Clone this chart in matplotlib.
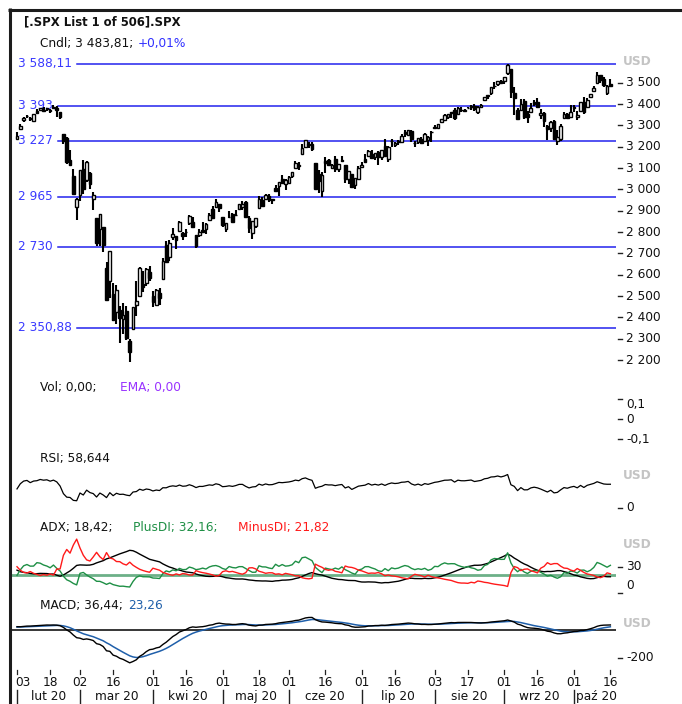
import numpy as np
import pandas as pd
import matplotlib
matplotlib.use("Agg")
import matplotlib.pyplot as plt
from matplotlib import transforms
from matplotlib.lines import Line2D

# ---------------- data (S&P 500 daily candles, Feb 3 - Oct 16 2020) ----------------
holidays = ["2020-02-17", "2020-04-10", "2020-05-25", "2020-07-03", "2020-09-07"]
start_date, end_date = "2020-02-03", "2020-10-16"

opens = [
    3235.66, 3280.61, 3324.91, 3344.92, 3335.54, 3318.28, 3365.87, 3370.50, 3365.90, 3378.08,
    3369.04, 3380.39, 3380.45, 3360.50, 3257.61, 3238.94, 3139.90, 3062.54, 2916.90,
    2974.28, 3096.46, 3045.75, 3075.70, 2954.20, 2863.89, 2813.48, 2825.60, 2630.86, 2569.99,
    2508.59, 2425.66, 2436.50, 2393.48, 2431.94, 2290.71, 2344.44, 2457.77, 2501.29, 2555.87,
    2558.98, 2614.69,
    2498.08, 2458.54, 2514.92, 2578.28, 2738.65, 2685.00, 2776.99, 2782.46, 2805.10, 2795.64,
    2799.34, 2842.43, 2845.62, 2784.81, 2787.89, 2810.42, 2812.64, 2854.65, 2909.96, 2918.46,
    2930.91,
    2869.09, 2815.01, 2868.88, 2883.14, 2878.26, 2908.83, 2915.46, 2939.50, 2865.86, 2794.54,
    2829.95, 2913.86, 2948.59, 2953.63, 2969.95, 2948.05, 3004.08, 3015.65, 3046.61, 3025.17,
    3031.00, 3064.78, 3098.90, 3111.56, 3163.84, 3199.92, 3213.32, 3213.42, 3123.53, 3071.04,
    2993.76, 3131.00, 3136.13, 3101.64, 3140.29, 3094.42, 3138.70, 3114.40, 3046.60, 3073.20,
    3018.59, 3050.20,
    3105.92, 3143.64, 3155.29, 3166.44, 3153.07, 3176.17, 3152.47, 3205.08, 3141.11, 3225.98,
    3208.36, 3224.21, 3224.29, 3268.52, 3254.86, 3271.64, 3218.58, 3219.84, 3234.27, 3227.22,
    3231.76, 3270.45,
    3288.26, 3289.92, 3317.37, 3323.17, 3340.05, 3356.04, 3370.34, 3355.46, 3372.95, 3368.66,
    3380.86, 3387.04, 3392.51, 3360.48, 3386.01, 3418.09, 3435.95, 3449.97, 3485.14, 3494.69,
    3509.73,
    3507.44, 3543.76, 3564.74, 3453.60, 3371.88, 3369.82, 3412.56, 3352.70, 3363.56, 3407.73,
    3411.23, 3346.86, 3357.38, 3295.75, 3285.57, 3320.11, 3226.14, 3236.66, 3333.90, 3350.92,
    3341.21,
    3385.87, 3338.94, 3367.27, 3408.74, 3384.56, 3434.28, 3459.67, 3500.02, 3534.01, 3515.47,
    3453.72, 3493.50,
]
highs = [
    3268.44, 3306.92, 3337.58, 3347.96, 3341.42, 3352.26, 3375.63, 3381.47, 3385.09, 3380.69,
    3375.01, 3393.52, 3389.15, 3360.76, 3259.81, 3246.99, 3182.51, 3097.07, 2959.72,
    3090.96, 3136.72, 3130.97, 3083.04, 2985.93, 2863.89, 2882.59, 2825.60, 2660.95, 2711.33,
    2562.98, 2553.93, 2453.57, 2466.97, 2453.01, 2300.73, 2449.71, 2571.42, 2637.01, 2615.91,
    2631.80, 2641.39,
    2522.75, 2533.22, 2538.18, 2676.85, 2756.89, 2760.75, 2818.57, 2782.46, 2851.85, 2801.88,
    2815.57, 2879.22, 2868.98, 2785.54, 2815.10, 2844.90, 2842.71, 2887.72, 2921.15, 2954.86,
    2930.91,
    2869.09, 2844.24, 2898.23, 2891.11, 2901.92, 2932.16, 2944.25, 2945.82, 2874.14, 2852.80,
    2865.01, 2968.09, 2964.21, 2980.29, 2978.50, 2956.76, 3021.72, 3036.25, 3068.67, 3049.17,
    3062.18, 3081.07, 3130.94, 3128.91, 3211.72, 3233.13, 3222.71, 3223.27, 3123.53, 3088.42,
    3079.76, 3153.45, 3141.16, 3120.00, 3155.53, 3120.92, 3154.90, 3115.01, 3086.25, 3073.73,
    3053.89, 3111.51,
    3128.44, 3165.81, 3182.59, 3184.15, 3171.80, 3179.78, 3186.82, 3235.32, 3200.95, 3238.28,
    3220.39, 3233.52, 3258.61, 3277.29, 3279.32, 3279.99, 3227.26, 3241.43, 3243.72, 3264.74,
    3250.92, 3272.17,
    3302.73, 3306.84, 3330.77, 3351.03, 3352.54, 3363.29, 3381.01, 3387.89, 3387.24, 3378.51,
    3387.59, 3395.06, 3399.54, 3390.80, 3399.96, 3432.09, 3444.21, 3481.07, 3501.38, 3509.23,
    3514.77,
    3528.03, 3588.11, 3564.85, 3479.15, 3379.97, 3424.77, 3425.55, 3368.95, 3402.93, 3419.48,
    3428.92, 3375.17, 3362.27, 3301.93, 3320.31, 3323.35, 3278.70, 3306.88, 3360.74, 3357.92,
    3393.56,
    3397.18, 3369.10, 3409.57, 3431.56, 3426.26, 3447.28, 3482.34, 3549.85, 3534.01, 3527.94,
    3489.08, 3515.76,
]
lows = [
    3235.66, 3280.61, 3313.75, 3334.39, 3322.12, 3317.77, 3352.72, 3369.72, 3360.52, 3366.15,
    3355.61, 3378.83, 3341.02, 3328.45, 3214.65, 3118.77, 3108.99, 2977.39, 2855.84,
    2945.19, 2976.63, 3034.38, 2999.83, 2901.54, 2734.43, 2734.00, 2707.22, 2478.86, 2492.37,
    2380.94, 2367.04, 2280.52, 2319.78, 2295.56, 2191.86, 2344.44, 2407.53, 2500.72, 2520.02,
    2545.28, 2571.15,
    2447.49, 2455.79, 2459.96, 2574.57, 2657.67, 2663.30, 2762.36, 2721.17, 2805.10, 2761.54,
    2775.95, 2830.88, 2820.43, 2727.10, 2775.95, 2794.26, 2791.76, 2852.89, 2860.71, 2912.16,
    2892.47,
    2821.61, 2797.85, 2863.55, 2847.65, 2876.48, 2902.88, 2903.44, 2869.59, 2793.15, 2766.64,
    2816.78, 2913.86, 2922.35, 2953.63, 2938.57, 2933.59, 2988.17, 2969.75, 3023.40, 2998.61,
    3031.00, 3051.64, 3098.90, 3090.41, 3163.84, 3196.00, 3193.11, 3181.49, 2999.49, 2984.47,
    2965.66, 3076.06, 3108.03, 3093.51, 3083.11, 3079.39, 3127.12, 3032.13, 3024.01, 3004.63,
    2999.74, 3047.83,
    3101.17, 3124.52, 3155.29, 3142.93, 3136.53, 3115.70, 3136.22, 3149.43, 3127.66, 3200.76,
    3198.59, 3205.65, 3215.16, 3247.77, 3253.10, 3222.66, 3200.05, 3214.25, 3216.17, 3227.22,
    3204.13, 3220.26,
    3284.53, 3286.37, 3317.37, 3318.14, 3328.72, 3335.44, 3326.44, 3355.46, 3363.35, 3361.64,
    3379.22, 3370.15, 3369.66, 3354.69, 3379.31, 3413.13, 3425.84, 3444.15, 3468.35, 3484.32,
    3493.25,
    3494.60, 3535.23, 3427.41, 3349.63, 3329.27, 3366.84, 3329.25, 3310.47, 3363.56, 3389.25,
    3384.45, 3328.82, 3292.40, 3229.10, 3270.95, 3232.57, 3209.45, 3228.44, 3332.91, 3327.54,
    3340.47,
    3361.39, 3323.69, 3367.27, 3354.54, 3384.56, 3428.15, 3458.07, 3499.61, 3500.86, 3480.55,
    3440.89, 3480.45,
]
closes = [
    3248.92, 3297.59, 3334.69, 3345.78, 3327.71, 3352.09, 3357.75, 3379.45, 3373.94, 3380.16,
    3370.29, 3386.15, 3373.23, 3337.75, 3225.89, 3128.21, 3116.39, 2978.76, 2954.22,
    3090.23, 3003.37, 3130.12, 3023.94, 2972.37, 2746.56, 2882.23, 2741.38, 2480.64, 2711.02,
    2386.13, 2529.19, 2398.10, 2409.39, 2304.92, 2237.40, 2447.33, 2475.56, 2630.07, 2541.47,
    2626.65, 2584.59,
    2470.50, 2526.90, 2488.65, 2663.68, 2659.41, 2749.98, 2789.82, 2761.63, 2846.06, 2783.36,
    2799.55, 2874.56, 2823.16, 2736.56, 2799.31, 2797.80, 2836.74, 2878.48, 2863.39, 2939.51,
    2912.43,
    2830.71, 2842.74, 2868.44, 2848.42, 2881.19, 2929.80, 2930.32, 2870.12, 2820.00, 2852.50,
    2863.70, 2953.91, 2922.94, 2971.61, 2948.51, 2955.45, 2991.77, 3036.13, 3029.73, 3044.31,
    3055.73, 3080.82, 3122.87, 3112.35, 3193.93, 3232.39, 3207.18, 3190.14, 3002.10, 3041.31,
    3066.59, 3124.74, 3113.49, 3115.34, 3097.74, 3117.86, 3131.29, 3050.33, 3083.76, 3009.05,
    3053.24, 3100.29,
    3115.86, 3130.01, 3179.72, 3145.32, 3169.94, 3152.05, 3185.04, 3155.22, 3197.52, 3226.56,
    3215.57, 3224.73, 3251.84, 3257.30, 3276.02, 3235.66, 3215.63, 3239.41, 3218.44, 3258.44,
    3246.22, 3271.12,
    3294.61, 3306.51, 3327.77, 3349.16, 3351.28, 3360.47, 3333.69, 3380.35, 3373.43, 3372.85,
    3381.99, 3389.78, 3374.85, 3385.51, 3397.16, 3431.28, 3443.62, 3478.73, 3484.55, 3508.01,
    3500.31,
    3526.65, 3580.84, 3455.06, 3426.96, 3331.84, 3398.96, 3339.19, 3340.97, 3383.54, 3401.20,
    3385.49, 3357.01, 3319.47, 3281.06, 3315.57, 3236.92, 3246.59, 3298.46, 3351.60, 3335.47,
    3363.00,
    3380.80, 3348.42, 3408.60, 3360.97, 3419.44, 3446.83, 3477.14, 3534.22, 3511.93, 3488.67,
    3483.34, 3483.81,
]

# horizontal price levels drawn on the chart
level_values = [3588.11, 3393, 3227, 2965, 2730, 2350.88]
level_labels = ["3 588,11", "3 393", "3 227", "2 965", "2 730", "2 350,88"]

price_ticks = [3500, 3400, 3300, 3200, 3100, 3000, 2900, 2800, 2700, 2600, 2500, 2400, 2300, 2200]
price_tick_labels = ["3 500", "3 400", "3 300", "3 200", "3 100", "3 000", "2 900", "2 800",
                     "2 700", "2 600", "2 500", "2 400", "2 300", "2 200"]

day_tick_dates = ["2020-02-03", "2020-02-18", "2020-03-02", "2020-03-16", "2020-04-01",
                  "2020-04-16", "2020-05-01", "2020-05-18", "2020-06-01", "2020-06-16",
                  "2020-07-01", "2020-07-16", "2020-08-03", "2020-08-17", "2020-09-01",
                  "2020-09-16", "2020-10-01", "2020-10-16"]
month_labels = ["lut 20", "mar 20", "kwi 20", "maj 20", "cze 20", "lip 20", "sie 20", "wrz 20", "paź 20"]

rsi_seed_gain, rsi_seed_loss = 5.5, 6.2
adx_seed_atr, adx_seed_plus, adx_seed_minus, adx_seed = 28.0, 20.0, 30.0, 26.0
macd_seed_fast, macd_seed_slow, macd_seed_signal = 3282.0, 3258.0, 21.0

header = "[.SPX List 1 of 506].SPX"
cndl_text, cndl_change = "Cndl; 3 483,81;", "+0,01%"

# ---------------- preparation ----------------
dates = pd.bdate_range(start_date, end_date)
dates = dates[~dates.isin(pd.to_datetime(holidays))]
o = np.array(opens); h = np.array(highs); l = np.array(lows); c = np.array(closes)
n = len(c)
assert len(dates) == n
xi = np.arange(n)

def calc_rsi(c, g0, l0, p=14):
    out = np.empty(len(c)); ag, al = g0, l0
    out[0] = 100 * ag / (ag + al)
    for i in range(1, len(c)):
        d = c[i] - c[i - 1]
        ag = (ag * (p - 1) + max(d, 0)) / p
        al = (al * (p - 1) + max(-d, 0)) / p
        out[i] = 100 * ag / (ag + al)
    return out

def calc_adx(h, l, c, atr0, pdi0, mdi0, adx0, p=14):
    atr, pdm, mdm, a = atr0, pdi0 / 100 * atr0, mdi0 / 100 * atr0, adx0
    P, M, A = [pdi0], [mdi0], [adx0]
    for i in range(1, len(c)):
        tr = max(h[i] - l[i], abs(h[i] - c[i - 1]), abs(l[i] - c[i - 1]))
        up = h[i] - h[i - 1]; dn = l[i - 1] - l[i]
        pp = up if (up > dn and up > 0) else 0.0
        mm = dn if (dn > up and dn > 0) else 0.0
        atr = (atr * (p - 1) + tr) / p
        pdm = (pdm * (p - 1) + pp) / p
        mdm = (mdm * (p - 1) + mm) / p
        pdi = 100 * pdm / atr; mdi = 100 * mdm / atr
        dx = 100 * abs(pdi - mdi) / (pdi + mdi) if (pdi + mdi) > 0 else 0
        a = (a * (p - 1) + dx) / p
        P.append(pdi); M.append(mdi); A.append(a)
    return np.array(P), np.array(M), np.array(A)

def calc_ema(v, seed, p):
    k = 2 / (p + 1); out = [seed]
    for x in v[1:]:
        out.append(out[-1] + k * (x - out[-1]))
    return np.array(out)

rsi = calc_rsi(c, rsi_seed_gain, rsi_seed_loss)
pdi, mdi, adx = calc_adx(h, l, c, adx_seed_atr, adx_seed_plus, adx_seed_minus, adx_seed)
macd = calc_ema(c, macd_seed_fast, 12) - calc_ema(c, macd_seed_slow, 26)
signal = calc_ema(macd, macd_seed_signal, 9)

# ---------------- figure ----------------
W, H = 682, 704
fig = plt.figure(figsize=(W / 100, H / 100), dpi=100)
fig.patch.set_facecolor("white")
FS = 8.7
X0, STEP, LEFT, RIGHT = 17.0, 3.315, 11, 616

def fx(px):
    return px / W

def fy(py):
    return 1 - py / H

def pane(top, bot, p1, v1, p2, v2):
    ax = fig.add_axes([fx(LEFT), fy(bot), (RIGHT - LEFT) / W, (bot - top) / H])
    k = (v2 - v1) / (p2 - p1)
    ax.set_ylim(v1 + (bot - p1) * k, v1 + (top - p1) * k)
    ax.set_xlim((LEFT - X0) / STEP, (RIGHT - X0) / STEP)
    ax.axis("off")
    return ax

def right_tick(ax, v, label, dy=0, va="center"):
    tr = transforms.blended_transform_factory(ax.transAxes, ax.transData)
    ax.add_line(Line2D([1 + 2 / (RIGHT - LEFT), 1 + 6 / (RIGHT - LEFT)], [v, v], transform=tr,
                       color="#222222", lw=1.0, clip_on=False))
    t2 = transforms.offset_copy(tr, fig=fig, x=10, y=-dy, units="dots")
    ax.text(1, v, label, transform=t2, ha="left", va=va, fontsize=FS, color="#111111")

def usd(py):
    fig.text(fx(623), fy(py), "USD", ha="left", va="center", fontsize=FS, color="#c4c4c4",
             fontweight="bold")

def ftext(px, py, s, color="#111111", size=FS, **kw):
    fig.text(fx(px), fy(py), s, ha="left", va="center", fontsize=size, color=color, **kw)

# frame lines (top and left only)
fig.add_artist(Line2D([fx(8), fx(682)], [fy(9.5), fy(9.5)], transform=fig.transFigure,
                      color="#1c1c1c", lw=2.2, solid_capstyle="butt"))
fig.add_artist(Line2D([fx(9.5), fx(9.5)], [fy(8), fy(704)], transform=fig.transFigure,
                      color="#1c1c1c", lw=2.2, solid_capstyle="butt"))

ftext(24, 22, header, fontweight="bold", size=8.4)
ftext(40.5, 44, cndl_text)
ftext(137.3, 44, cndl_change, color="#3030ff")

# ---- price pane ----
axp = pane(55, 372, 82.7, 3500, 360.0, 2200)
usd(61.5)
for v, s in zip(price_ticks, price_tick_labels):
    right_tick(axp, v, s)
fig.canvas.draw()
rend = fig.canvas.get_renderer()
for v, s in zip(level_values, level_labels):
    tr = transforms.blended_transform_factory(fig.transFigure, axp.transData)
    t = axp.text(fx(18), v, s, transform=tr, ha="left", va="center", fontsize=FS, color="#3a3aff")
    bb = t.get_window_extent(renderer=rend)
    xs = (bb.x1 + 5 - LEFT) / (RIGHT - LEFT)
    axp.axhline(v, xmin=xs, xmax=1, color="#2323ee", lw=1.1, zorder=1)

axp.vlines(xi, l, h, color="black", lw=1.5, zorder=3)
up = c >= o
axp.bar(xi, c - o, bottom=o, width=0.8, color=np.where(up, "white", "black"),
        edgecolor="black", lw=1.0, zorder=4)

# ---- volume pane ----
axv = pane(395, 442, 399.3, 0.1, 419.3, 0.0)
right_tick(axv, 0.1, "0,1", va="top", dy=-1)
right_tick(axv, 0.0, "0")
right_tick(axv, -0.1, "-0,1")
ftext(40.5, 388, "Vol; 0,00;")
ftext(119.5, 388, "EMA; 0,00", color="#9933ff")

# ---- RSI pane ----
axr = pane(465, 510, 507.7, 0, 467.7, 100)
usd(475.7)
right_tick(axr, 0, "0")
axr.plot(xi, rsi, color="black", lw=0.9)
ftext(40.5, 458.5, "RSI; 58,644")

# ---- ADX pane ----
axa = pane(535, 594, 592.7, 0, 566.7, 30)
usd(544.5)
right_tick(axa, 30, "30")
right_tick(axa, 0, "0", va="bottom", dy=-1)
axa.axhline(20, color="#6cb088", lw=2.0, zorder=1)
axa.plot(xi, adx, color="black", lw=1.0, zorder=3)
axa.plot(xi, pdi, color="#1e8f45", lw=1.0, zorder=4)
axa.plot(xi, mdi, color="#ff1a1a", lw=1.0, zorder=5)
ftext(40.5, 527, "ADX; 18,42;")
ftext(133.3, 527, "PlusDI; 32,16;", color="#1e8f45")
ftext(237.7, 527, "MinusDI; 21,82", color="#ff1a1a")

# ---- MACD pane ----
axm = pane(612, 666, 630, 0, 657.7, -200)
usd(623.3)
right_tick(axm, -200, "-200")
axm.axhline(0, color="black", lw=1.1, zorder=1)
axm.plot(xi, signal, color="#1f5faa", lw=1.1, zorder=3)
axm.plot(xi, macd, color="black", lw=1.0, zorder=4)
ftext(40.5, 605.7, "MACD; 36,44;")
ftext(128.3, 605.7, "23,26", color="#1f5faa")

# ---- date axis ----
axx = fig.add_axes([fx(LEFT), 0, (RIGHT - LEFT) / W, fy(666)])
axx.set_xlim((LEFT - X0) / STEP, (RIGHT - X0) / STEP)
axx.set_ylim(704, 666)
axx.axis("off")
pos = {d: i for i, d in enumerate(dates.strftime("%Y-%m-%d"))}
for k, d in enumerate(day_tick_dates):
    i = pos[d]
    axx.plot([i, i], [670.5, 674], color="#222222", lw=0.9, clip_on=False)
    ha = "center"
    tx = i
    if k == 0:
        tx = i - 0.5
        ha = "left"
    axx.text(tx, 682.5, d[-2:], ha=ha, va="center", fontsize=FS, color="#111111")
month_starts = [i for i in range(n) if i == 0 or dates[i].month != dates[i - 1].month]
for j, i in enumerate(month_starts):
    axx.plot([i, i], [690, 704], color="#222222", lw=1.0, clip_on=False)
    if j + 1 < len(month_starts):
        axx.text((i + month_starts[j + 1]) / 2, 696.5, month_labels[j], ha="center", va="center",
                 fontsize=FS, color="#111111")
    else:
        axx.text(i + 0.6, 696.5, month_labels[j], ha="left", va="center", fontsize=FS,
                 color="#111111")

fig.savefig("out.png", dpi=100, facecolor="white")
